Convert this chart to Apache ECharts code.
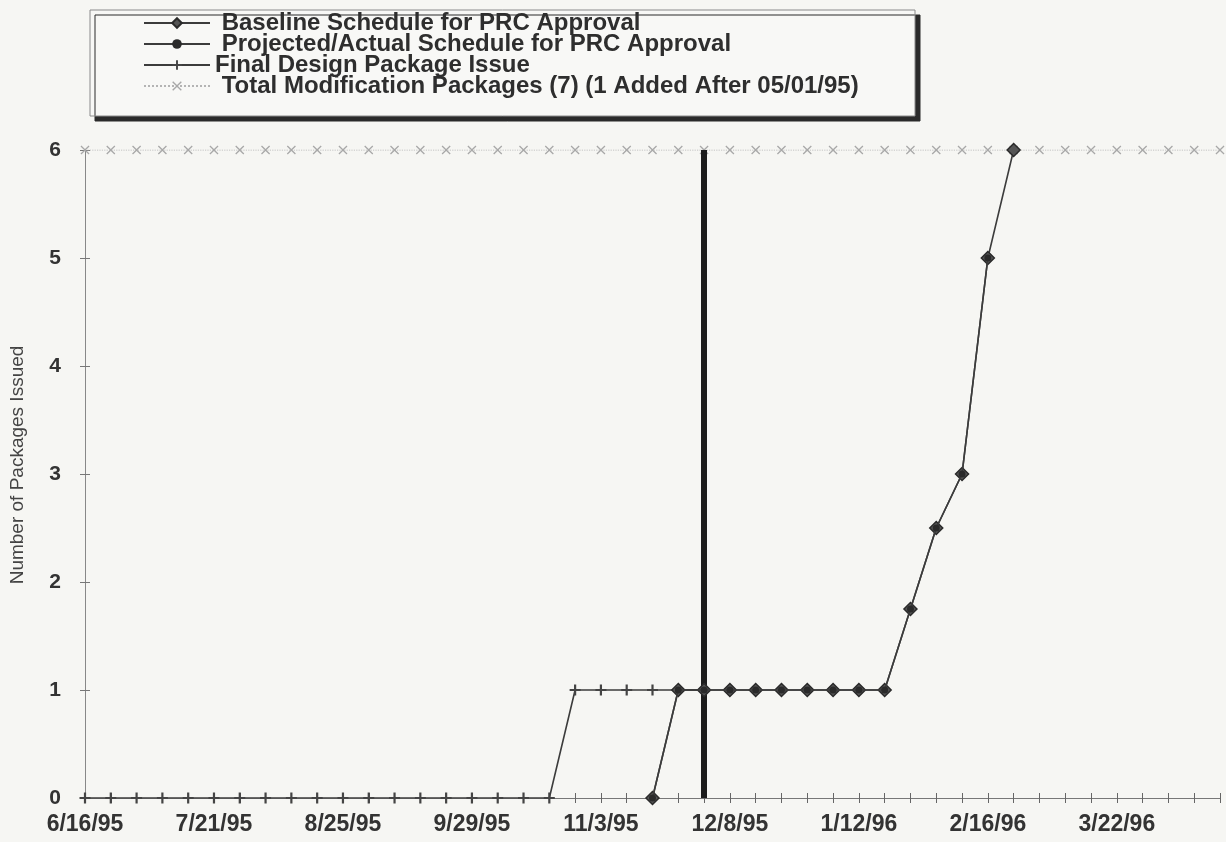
<!DOCTYPE html>
<html>
<head>
<meta charset="utf-8">
<script src="https://cdn.jsdelivr.net/npm/echarts@6/dist/echarts.min.js"></script>
<style>
  html, body { margin: 0; padding: 0; background: #f6f6f3; }
  #chart { width: 1226px; height: 842px; }
</style>
</head>
<body>
<div id="chart"></div>
<script>
// weekly dates on the category axis
const weeks = [
  '6/16/95', '6/23/95', '6/30/95', '7/7/95', '7/14/95', '7/21/95', '7/28/95', '8/4/95', '8/11/95', '8/18/95',
  '8/25/95', '9/1/95', '9/8/95', '9/15/95', '9/22/95', '9/29/95', '10/6/95', '10/13/95', '10/20/95', '10/27/95',
  '11/3/95', '11/10/95', '11/17/95', '11/24/95', '12/1/95', '12/8/95', '12/15/95', '12/22/95', '12/29/95', '1/5/96',
  '1/12/96', '1/19/96', '1/26/96', '2/2/96', '2/9/96', '2/16/96', '2/23/96', '3/1/96', '3/8/96', '3/15/96',
  '3/22/96', '3/29/96', '4/5/96', '4/12/96', '4/19/96'
];

const seriesNames = [
  'Baseline Schedule for PRC Approval',
  'Projected/Actual Schedule for PRC Approval',
  'Final Design Package Issue',
  'Total Modification Packages (7) (1 Added After 05/01/95)'
];

const baseline = [
  null, null, null, null, null, null, null, null, null, null,
  null, null, null, null, null, null, null, null, null, null,
  null, null, 0, 1, 1, 1, 1, 1, 1, 1,
  1, 1, 1.75, 2.5, 3, 5, 6, null, null, null,
  null, null, null, null, null
];

const projected = [
  null, null, null, null, null, null, null, null, null, null,
  null, null, null, null, null, null, null, null, null, null,
  null, null, 0, 1, 1, 1, 1, 1, 1, 1,
  1, 1, 1.75, 2.5, 3, 5, null, null, null, null,
  null, null, null, null, null
];

const finalDesign = [
  0, 0, 0, 0, 0, 0, 0, 0, 0, 0,
  0, 0, 0, 0, 0, 0, 0, 0, 0, 1,
  1, 1, 1, 1, 1, null, null, null, null, null,
  null, null, null, null, null, null, null, null, null, null,
  null, null, null, null, null
];

const totalPackages = [
  6, 6, 6, 6, 6, 6, 6, 6, 6, 6,
  6, 6, 6, 6, 6, 6, 6, 6, 6, 6,
  6, 6, 6, 6, 6, 6, 6, 6, 6, 6,
  6, 6, 6, 6, 6, 6, 6, 6, 6, 6,
  6, 6, 6, 6, 6
];

const statusDate = '12/1/95'; // thick vertical line

const FONT = '"Liberation Sans", Arial, sans-serif';
const plusIcon = 'path://M4,0H6V4H10V6H6V10H4V6H0V4H4Z';
const crossIcon = 'path://M0,1L1,0L5,4L9,0L10,1L6,5L10,9L9,10L5,6L1,10L0,9L4,5Z';

const chart = echarts.init(document.getElementById('chart'));

const catAxisBase = {
  type: 'category',
  data: weeks,
  boundaryGap: false,
  position: 'bottom'
};

const option = {
  backgroundColor: '#f6f6f3',
  animation: false,
  textStyle: { fontFamily: FONT },
  grid: { left: 82, right: 6, top: 150, bottom: 44 },
  graphic: [{
    type: 'rect',
    z: 0,
    shape: { x: 90, y: 10, width: 825, height: 106 },
    style: {
      fill: '#f8f8f6', stroke: '#8a8a8a', lineWidth: 1,
      shadowColor: '#2a2a2a', shadowOffsetX: 5, shadowOffsetY: 5, shadowBlur: 0
    }
  }],
  legend: {
    data: seriesNames,
    orient: 'vertical',
    left: 143,
    top: 11,
    z: 10,
    itemWidth: 66,
    itemHeight: 12,
    itemGap: -3,
    padding: 0,
    formatter: name => name === seriesNames[2] ? name : ' ' + name,
    textStyle: { fontFamily: FONT, fontSize: 24, fontWeight: 'bold', color: '#2e2e2e', lineHeight: 21 }
  },
  xAxis: [
    Object.assign({}, catAxisBase, {
      axisLine: { lineStyle: { color: '#777', width: 1 } },
      axisTick: { show: true, interval: 0, length: 5, lineStyle: { color: '#666' } },
      axisLabel: {
        interval: 4, margin: 15,
        fontFamily: FONT, fontSize: 23, fontWeight: 'bold', color: '#333'
      },
      splitLine: { show: false }
    }),
    Object.assign({}, catAxisBase, {
      axisLine: { show: false },
      axisTick: { show: true, inside: true, interval: 0, length: 5, lineStyle: { color: '#666' } },
      axisLabel: { show: false },
      splitLine: { show: false }
    })
  ],
  yAxis: [
    {
      type: 'value',
      min: 0, max: 6, interval: 1,
      name: 'Number of Packages Issued',
      nameLocation: 'middle',
      nameGap: 58,
      nameTextStyle: { fontFamily: FONT, fontSize: 19, color: '#444', padding: [0, 0, 0, 18] },
      axisLine: { show: true, lineStyle: { color: '#888', width: 1 } },
      axisTick: { show: true, length: 5, lineStyle: { color: '#777' } },
      axisLabel: { margin: 24, fontFamily: FONT, fontSize: 21, fontWeight: 'bold', color: '#333' },
      splitLine: { show: false }
    },
    {
      type: 'value',
      position: 'left',
      min: 0, max: 6, interval: 1,
      axisLine: { show: false },
      axisTick: { show: true, inside: true, length: 5, lineStyle: { color: '#777' } },
      axisLabel: { show: false },
      splitLine: { show: false }
    }
  ],
  series: [
    {
      name: seriesNames[0],
      type: 'line',
      data: baseline,
      symbol: 'diamond',
      symbolSize: 13,
      z: 5,
      lineStyle: { color: '#3c3c3c', width: 1.6 },
      itemStyle: { color: '#555', borderColor: '#2a2a2a', borderWidth: 1.5 },
      markLine: {
        silent: true,
        symbol: ['none', 'none'],
        label: { show: false },
        lineStyle: { color: '#1c1c1c', width: 6, type: 'solid' },
        data: [{ xAxis: statusDate }]
      }
    },
    {
      name: seriesNames[1],
      type: 'line',
      data: projected,
      symbol: 'circle',
      symbolSize: 7,
      z: 6,
      lineStyle: { color: '#3c3c3c', width: 1.6 },
      itemStyle: { color: '#2a2a2a' }
    },
    {
      name: seriesNames[2],
      type: 'line',
      data: finalDesign,
      symbol: plusIcon,
      symbolSize: 11,
      z: 4,
      lineStyle: { color: '#3c3c3c', width: 1.6 },
      itemStyle: { color: '#444' }
    },
    {
      name: seriesNames[3],
      type: 'line',
      data: totalPackages,
      symbol: crossIcon,
      symbolSize: 9,
      z: 3,
      lineStyle: { color: '#b4b4b4', width: 1.2, type: 'dotted' },
      itemStyle: { color: '#a8a8a8' }
    }
  ]
};

chart.setOption(option);
</script>
</body>
</html>
